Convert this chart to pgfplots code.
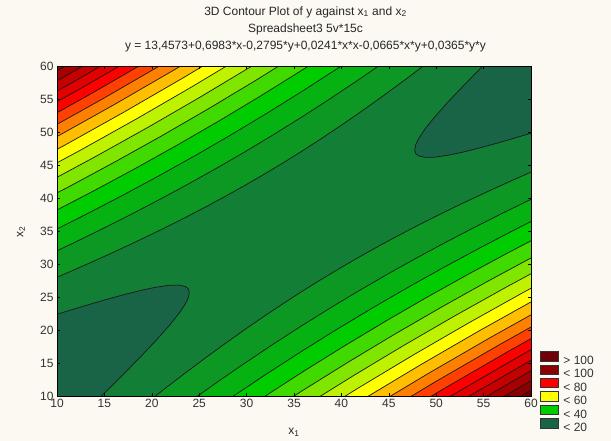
\documentclass[border=0pt]{standalone}
\usepackage{fontspec}
\setmainfont{Liberation Sans}
\usepackage{pgfplots}
\pgfplotsset{compat=1.18}

\newcommand\tf{\fontsize{12bp}{14bp}\selectfont}

% band colours, one per 5-unit band
\definecolor{bgc}{RGB}{251,249,241}
\definecolor{c15}{RGB}{25,100,70}
\definecolor{c20}{RGB}{19,126,53}
\definecolor{c25}{RGB}{13,152,35}
\definecolor{c30}{RGB}{6,178,18}
\definecolor{c35}{RGB}{0,204,0}
\definecolor{c40}{RGB}{64,217,0}
\definecolor{c45}{RGB}{128,230,0}
\definecolor{c50}{RGB}{191,242,0}
\definecolor{c55}{RGB}{255,255,0}
\definecolor{c60}{RGB}{255,191,0}
\definecolor{c65}{RGB}{255,128,0}
\definecolor{c70}{RGB}{255,64,0}
\definecolor{c75}{RGB}{255,0,0}
\definecolor{c80}{RGB}{226,0,0}
\definecolor{c85}{RGB}{197,0,0}
\definecolor{c90}{RGB}{168,0,0}
\definecolor{c95}{RGB}{139,0,0}
\definecolor{c100}{RGB}{110,0,8}

\pgfplotsset{cl/.style={draw=black!90, line width=0.7bp, forget plot}}

\begin{document}
\begin{tikzpicture}
\fill[bgc] (0,0) rectangle (611bp,441bp);
\useasboundingbox (0,0) rectangle (611bp,441bp);
\begin{axis}[
    at={(57bp,45bp)}, anchor=south west,
    width=474bp, height=330bp, scale only axis,
    xmin=10, xmax=60, ymin=10, ymax=60,
    xtick={10,15,...,60}, ytick={10,15,...,60},
    tick pos=both, tick align=inside, major tick length=3bp,
    axis on top,
    axis background/.style={fill=c20},
    axis line style={black, line width=0.6bp},
    every tick/.style={black, line width=0.5bp},
    ticklabel style={font=\tf, text=black!80},
    /pgf/number format/assume math mode=true,
    legend style={at={(axis description cs:1.019,0.136)}, anchor=north west,
        draw=none, fill=none, inner sep=0pt, outer sep=0pt,
        font=\tf, text=black!80, row sep=-0.3bp, column sep=5bp,
        nodes={inner sep=0pt, text height=8.6bp, text depth=0.4bp}},
    legend cell align=left,
    legend image code/.code={\draw[#1] (0bp,-0.5bp) rectangle (18bp,9bp);},
]
\addlegendimage{fill=c100, draw=black!80}\addlegendentry{> 100}
\addlegendimage{fill=c95, draw=black!80}\addlegendentry{< 100}
\addlegendimage{fill=c75, draw=black!80}\addlegendentry{< 80}
\addlegendimage{fill=c55, draw=black!80}\addlegendentry{< 60}
\addlegendimage{fill=c35, draw=black!80}\addlegendentry{< 40}
\addlegendimage{fill=c15, draw=black!80}\addlegendentry{< 20}

% upper-left side, contour levels 25 ... 95
\addplot[cl, fill=c25] coordinates {(9.436,27.633) (11.467,28.897) (13.499,30.186) (15.530,31.504) (17.561,32.854) (19.593,34.239) (21.624,35.665) (23.655,37.135) (25.686,38.653) (27.718,40.225) (29.749,41.853) (31.780,43.542) (33.812,45.295) (35.843,47.112) (37.874,48.996) (39.906,50.944) (41.937,52.956) (43.968,55.028) (46.000,57.157) (48.031,59.340) (50.062,61.571) (52.093,63.846) (-100,63.846) (-100,27.633)};
\addplot[cl, fill=c30] coordinates {(8.655,31.087) (11.676,33.148) (14.697,35.268) (17.718,37.454) (20.738,39.712) (23.759,42.049) (26.780,44.471) (29.801,46.983) (32.822,49.589) (35.843,52.292) (38.864,55.093) (41.885,57.990) (44.906,60.983) (47.927,64.064) (-100,64.064) (-100,31.087)};
\addplot[cl, fill=c35] coordinates {(9.533,34.972) (13.292,37.691) (17.050,40.501) (20.809,43.409) (24.567,46.422) (28.326,49.547) (32.084,52.790) (35.843,56.153) (39.602,59.638) (43.360,63.242) (-100,63.242) (-100,34.972)};
\addplot[cl, fill=c40] coordinates {(9.603,37.890) (13.976,41.159) (18.350,44.542) (22.723,48.048) (27.096,51.685) (31.470,55.458) (35.843,59.371) (40.216,63.426) (-100,63.426) (-100,37.890)};
\addplot[cl, fill=c45] coordinates {(6.372,38.063) (11.284,41.735) (16.196,45.535) (21.108,49.473) (26.019,53.557) (30.931,57.794) (35.843,62.189) (-100,62.189) (-100,38.063)};
\addplot[cl, fill=c50] coordinates {(8.858,42.254) (14.255,46.429) (19.652,50.756) (25.049,55.243) (30.446,59.899) (35.843,64.729) (-100,64.729) (-100,42.254)};
\addplot[cl, fill=c55] coordinates {(6.634,42.730) (12.476,47.249) (18.318,51.933) (24.159,56.790) (30.001,61.830) (-100,61.830) (-100,42.730)};
\addplot[cl, fill=c60] coordinates {(4.567,43.172) (10.823,48.011) (17.078,53.026) (23.333,58.227) (29.588,63.623) (-100,63.623) (-100,43.172)};
\addplot[cl, fill=c65] coordinates {(9.272,48.726) (15.915,54.052) (22.557,59.575) (29.200,65.306) (-100,65.306) (-100,48.726)};
\addplot[cl, fill=c70] coordinates {(7.807,49.401) (14.816,55.020) (21.825,60.848) (-100,60.848) (-100,49.401)};
\addplot[cl, fill=c75] coordinates {(6.415,50.043) (13.772,55.941) (21.129,62.058) (-100,62.058) (-100,50.043)};
\addplot[cl, fill=c80] coordinates {(5.085,50.655) (12.775,56.820) (20.464,63.214) (-100,63.214) (-100,50.655)};
\addplot[cl, fill=c85] coordinates {(3.811,51.243) (11.819,57.663) (19.827,64.321) (-100,64.321) (-100,51.243)};
\addplot[cl, fill=c90] coordinates {(2.586,51.807) (10.900,58.473) (19.215,65.386) (-100,65.386) (-100,51.807)};
\addplot[cl, fill=c95] coordinates {(1.405,52.352) (10.014,59.254) (18.624,66.413) (-100,66.413) (-100,52.352)};

% lower-right side, contour levels 25 ... 100
\addplot[cl, fill=c25] coordinates {(62.250,45.328) (60.219,44.063) (58.187,42.774) (56.156,41.456) (54.125,40.106) (52.093,38.721) (50.062,37.295) (48.031,35.825) (46.000,34.307) (43.968,32.735) (41.937,31.107) (39.906,29.418) (37.874,27.665) (35.843,25.848) (33.812,23.964) (31.780,22.016) (29.749,20.004) (27.718,17.932) (25.686,15.803) (23.655,13.620) (21.624,11.389) (19.593,9.114) (200,9.114) (200,45.328)};
\addplot[cl, fill=c30] coordinates {(63.031,41.873) (60.010,39.812) (56.989,37.692) (53.968,35.506) (50.948,33.248) (47.927,30.911) (44.906,28.489) (41.885,25.977) (38.864,23.371) (35.843,20.668) (32.822,17.867) (29.801,14.970) (26.780,11.978) (23.759,8.896) (200,8.896) (200,41.873)};
\addplot[cl, fill=c35] coordinates {(62.153,37.988) (58.394,35.269) (54.636,32.459) (50.877,29.551) (47.119,26.538) (43.360,23.413) (39.602,20.170) (35.843,16.807) (32.084,13.322) (28.326,9.718) (200,9.718) (200,37.988)};
\addplot[cl, fill=c40] coordinates {(62.083,35.071) (57.710,31.801) (53.336,28.418) (48.963,24.912) (44.590,21.275) (40.216,17.503) (35.843,13.589) (31.470,9.534) (200,9.534) (200,35.071)};
\addplot[cl, fill=c45] coordinates {(65.314,34.897) (60.402,31.225) (55.490,27.425) (50.578,23.487) (45.667,19.403) (40.755,15.166) (35.843,10.771) (30.931,6.216) (200,6.216) (200,34.897)};
\addplot[cl, fill=c50] coordinates {(62.828,30.706) (57.431,26.531) (52.034,22.204) (46.637,17.717) (41.240,13.061) (35.843,8.232) (200,8.232) (200,30.706)};
\addplot[cl, fill=c55] coordinates {(65.052,30.230) (59.210,25.711) (53.368,21.027) (47.527,16.170) (41.685,11.130) (35.843,5.903) (200,5.903) (200,30.230)};
\addplot[cl, fill=c60] coordinates {(67.119,29.788) (60.863,24.949) (54.608,19.934) (48.353,14.733) (42.098,9.337) (200,9.337) (200,29.788)};
\addplot[cl, fill=c65] coordinates {(62.414,24.234) (55.771,18.909) (49.129,13.385) (42.486,7.654) (200,7.654) (200,24.234)};
\addplot[cl, fill=c70] coordinates {(63.879,23.559) (56.870,17.940) (49.861,12.112) (42.852,6.065) (200,6.065) (200,23.559)};
\addplot[cl, fill=c75] coordinates {(65.271,22.917) (57.914,17.019) (50.557,10.902) (43.200,4.555) (200,4.555) (200,22.917)};
\addplot[cl, fill=c80] coordinates {(66.601,22.305) (58.911,16.140) (51.222,9.746) (200,9.746) (200,22.305)};
\addplot[cl, fill=c85] coordinates {(67.875,21.717) (59.867,15.298) (51.859,8.639) (200,8.639) (200,21.717)};
\addplot[cl, fill=c90] coordinates {(69.100,21.153) (60.786,14.487) (52.471,7.574) (200,7.574) (200,21.153)};
\addplot[cl, fill=c95] coordinates {(70.281,20.608) (61.672,13.706) (53.062,6.547) (200,6.547) (200,20.608)};
\addplot[cl, fill=c100] coordinates {(71.424,20.082) (62.529,12.950) (53.634,5.554) (200,5.554) (200,20.082)};

% level 20: the two low regions
\addplot[cl, fill=c15] coordinates {(9.843,22.318) (12.843,23.637) (14.843,24.480) (16.843,25.277) (18.843,26.000) (20.343,26.458) (21.843,26.775) (22.843,26.808) (23.543,26.583) (23.843,26.236) (23.960,25.655) (23.843,24.861) (23.543,23.968) (22.843,22.467) (21.843,20.679) (20.343,18.262) (18.843,15.988) (16.843,13.067) (14.843,10.220) (12.843,7.419) (9.843,3.272) (-100,3.272) (-100,22.318)};
\addplot[cl, fill=c15] coordinates {(61.843,69.688) (58.843,65.541) (56.843,62.740) (54.843,59.893) (52.843,56.972) (51.343,54.698) (49.843,52.281) (48.843,50.493) (48.143,48.992) (47.843,48.099) (47.726,47.305) (47.843,46.724) (48.143,46.377) (48.843,46.152) (49.843,46.185) (51.343,46.502) (52.843,46.960) (54.843,47.683) (56.843,48.480) (58.843,49.323) (61.843,50.642) (200,50.642) (200,69.688)};
\end{axis}
\begin{scope}[every node/.style={font=\tf, text=black!85}]
\node at (305.5bp,429bp) {3D Contour Plot of y against x\textsubscript{1} and x\textsubscript{2}};
\node at (305.5bp,411.5bp) {Spreadsheet3 5v*15c};
\node at (305.5bp,394bp) {y = 13,4573+0,6983*x-0,2795*y+0,0241*x*x-0,0665*x*y+0,0365*y*y};
\node at (294bp,9bp) {x\textsubscript{1}};
\node[rotate=90] at (21bp,209bp) {x\textsubscript{2}};
\end{scope}
\end{tikzpicture}
\end{document}
